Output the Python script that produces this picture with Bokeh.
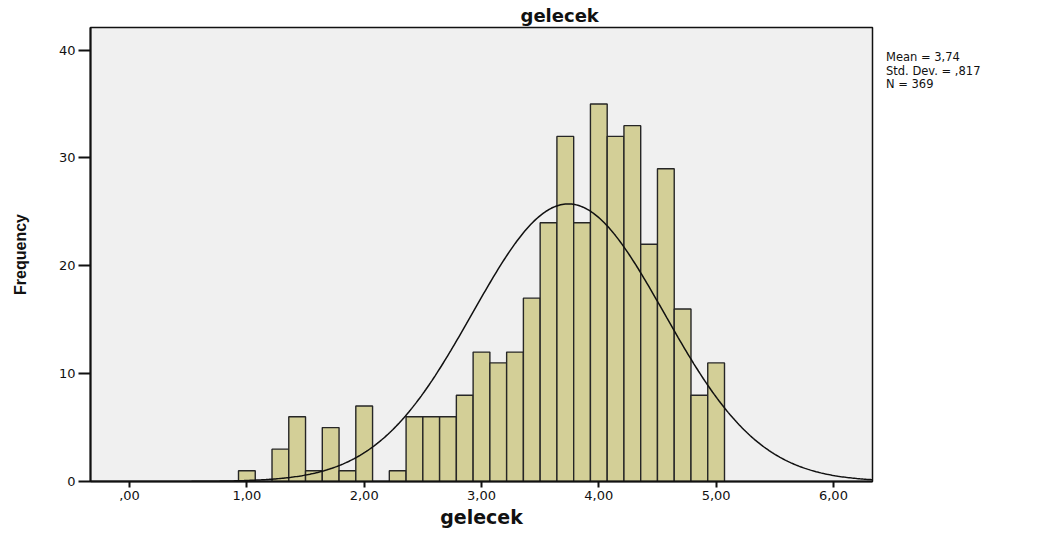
import numpy as np
from bokeh.plotting import figure
from bokeh.models import Range1d, FixedTicker, Div
from bokeh.layouts import row
from bokeh.embed import file_html
from bokeh.resources import INLINE

# ---- data ----
n_items = 7                      # score = mean of 7 items -> bins of width 1/7
score_min = 1.0
bin_counts = [1, 0, 3, 6, 1, 5, 1, 7, 0, 1, 6, 6, 6, 8, 12, 11, 12, 17,
              24, 32, 24, 35, 32, 33, 22, 29, 16, 8, 11]
mean_val = 3.74
sd_val = 0.817
n_val = 369
x_ticks = [0, 1, 2, 3, 4, 5, 6]
x_tick_labels = [",00", "1,00", "2,00", "3,00", "4,00", "5,00", "6,00"]
y_ticks = [0, 10, 20, 30, 40]
stats_lines = ["Mean = 3,74", "Std. Dev. = ,817", "N = 369"]

# ---- derived ----
bin_w = 1.0 / n_items
centers = [score_min + i * bin_w for i in range(len(bin_counts))]
x_lo, x_hi = -0.333, 6.333
xs = np.linspace(x_lo, x_hi, 500)
ys = n_val * bin_w * np.exp(-0.5 * ((xs - mean_val) / sd_val) ** 2) / (sd_val * np.sqrt(2 * np.pi))

WIDE = "'DejaVu Sans', Verdana, sans-serif"
NARROW = "'Liberation Sans Narrow', 'Arial Narrow', 'Liberation Sans', sans-serif"

p = figure(width=874, height=531, x_range=Range1d(x_lo, x_hi), y_range=Range1d(0, 42.1),
           output_backend="svg", toolbar_location=None,
           min_border_left=90, min_border_right=2, min_border_top=27, min_border_bottom=50)

p.background_fill_color = "#F0F0F0"
p.border_fill_color = "white"
p.outline_line_color = "#111111"
p.outline_line_width = 1.5
p.grid.visible = False

p.vbar(x=centers, top=bin_counts, bottom=0, width=bin_w,
       fill_color="#D3CF97", line_color="#262626", line_width=1.4)
p.line(xs, ys, line_color="#111111", line_width=1.5)

p.title.text = "gelecek"
p.title.align = "left"
p.title.offset = 430
p.title.text_font = WIDE
p.title.text_font_size = "18px"
p.title.text_font_style = "bold"
p.title.text_color = "#111111"
p.title.standoff = 3

xa = p.xaxis[0]
xa.ticker = FixedTicker(ticks=x_ticks)
xa.major_label_overrides = {t: l for t, l in zip(x_ticks, x_tick_labels)}
xa.axis_label = "gelecek"
xa.axis_label_text_font = WIDE
xa.axis_label_text_font_size = "19px"
xa.axis_label_text_font_style = "bold"
xa.axis_label_standoff = 3
xa.major_tick_in = 0
xa.major_tick_out = 6
xa.major_label_standoff = 3

ya = p.yaxis[0]
ya.ticker = FixedTicker(ticks=y_ticks)
ya.axis_label = "Frequency"
ya.axis_label_text_font = NARROW
ya.axis_label_text_font_size = "16px"
ya.axis_label_text_font_style = "bold"
ya.axis_label_standoff = 27
ya.major_tick_in = 0
ya.major_tick_out = 12
ya.major_label_standoff = 3

for ax in (xa, ya):
    ax.minor_tick_line_color = None
    ax.axis_line_width = 2
    ax.axis_line_color = "#111111"
    ax.major_tick_line_width = 2
    ax.major_tick_line_color = "#111111"
    ax.major_label_text_font = WIDE
    ax.major_label_text_font_size = "13px"
    ax.major_label_text_color = "#111111"
    ax.axis_label_text_color = "#111111"

stats = Div(text="<br>".join(stats_lines), width=150, height=60,
            margin=(51, 0, 0, 12),
            styles={"font-family": "'DejaVu Sans', Verdana, sans-serif",
                    "font-size": "11.5px", "line-height": "13.5px",
                    "color": "#111111", "white-space": "nowrap"})

layout = row(p, stats)
open("out.html", "w").write(file_html(layout, INLINE))
